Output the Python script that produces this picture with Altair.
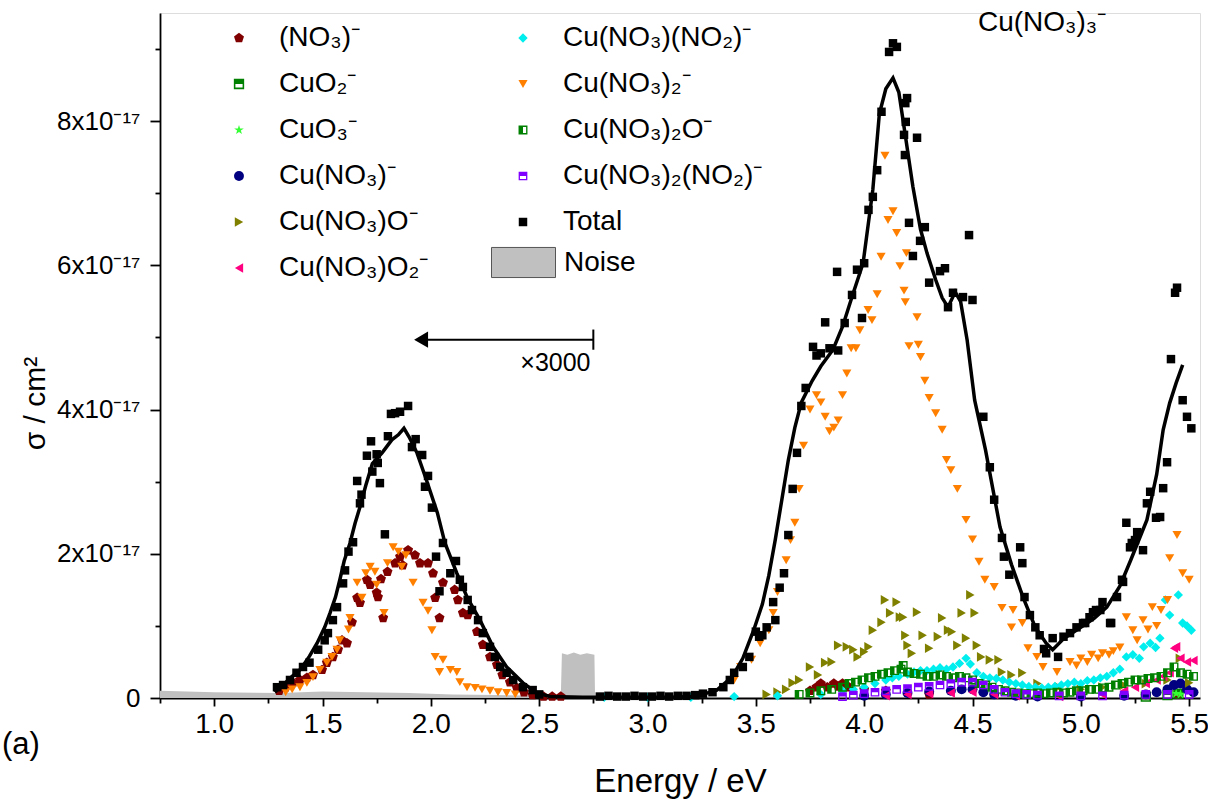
import altair as alt
import pandas as pd

# ---------------- data (cross-section in units of 1e-17 cm^2) ----------------
S_NO3 = "(NO₃)⁻"
S_CUO2 = "CuO₂⁻"
S_CUO3 = "CuO₃⁻"
S_CUNO3 = "Cu(NO₃)⁻"
S_CUNO3O = "Cu(NO₃)O⁻"
S_CUNO3O2 = "Cu(NO₃)O₂⁻"
S_CUNO3NO2 = "Cu(NO₃)(NO₂)⁻"
S_CUNO32 = "Cu(NO₃)₂⁻"
S_CUNO32O = "Cu(NO₃)₂O⁻"
S_CUNO32NO2 = "Cu(NO₃)₂(NO₂)⁻"
S_TOTAL = "Total"

total_x = [1.29, 1.318, 1.35, 1.38, 1.41, 1.44, 1.48, 1.51, 1.525, 1.548, 1.567, 1.595, 1.604, 1.62, 1.641,
           1.66, 1.673, 1.68, 1.705, 1.724, 1.73, 1.75, 1.755, 1.765, 1.788, 1.802, 1.816, 1.835, 1.858, 1.895,
           1.913, 1.93, 1.96, 1.973, 1.987, 2.005, 2.024, 2.04, 2.056, 2.09, 2.116, 2.134, 2.148, 2.17, 2.19,
           2.218, 2.24, 2.273, 2.296, 2.32, 2.35, 2.38, 2.425, 2.47, 2.50,
           2.78, 2.82, 2.86, 2.90, 2.94, 2.98, 3.02, 3.06, 3.10, 3.14, 3.18, 3.22,
           3.256, 3.30, 3.35, 3.38, 3.40, 3.44, 3.47, 3.50, 3.515, 3.53, 3.55, 3.58, 3.59, 3.61, 3.63,
           3.65, 3.67, 3.69, 3.71, 3.73, 3.764, 3.78, 3.80, 3.82, 3.84, 3.875, 3.88, 3.91, 3.944, 3.967,
           3.99, 4.00, 4.02, 4.04, 4.06, 4.08, 4.115, 4.133, 4.151, 4.184, 4.19, 4.198, 4.192, 4.188, 4.207,
           4.225, 4.244, 4.258, 4.28, 4.30, 4.35, 4.373, 4.387, 4.41, 4.456, 4.484, 4.50, 4.55, 4.58, 4.60,
           4.636, 4.645, 4.67, 4.72, 4.73, 4.74, 4.765, 4.79, 4.81, 4.83, 4.84, 4.87, 4.895, 4.92, 4.95,
           4.98, 5.01, 5.02, 5.04, 5.056, 5.07, 5.09, 5.10, 5.135, 5.14, 5.167, 5.19, 5.195, 5.21, 5.227,
           5.235, 5.25, 5.26, 5.287, 5.305, 5.32, 5.347, 5.366, 5.38, 5.398, 5.416, 5.435, 5.444, 5.47,
           5.49, 5.51]
total_y = [0.15, 0.18, 0.25, 0.35, 0.43, 0.49, 0.67, 0.80, 0.90, 1.08, 1.26, 1.59, 1.77, 2.03, 2.16,
           3.01, 2.70, 2.82, 3.36, 3.56, 3.14, 3.38, 3.26, 2.98, 2.27, 3.63, 3.94, 3.95, 3.97, 4.05,
           3.48, 3.59, 3.37, 2.93, 3.08, 2.64, 1.96, 1.48, 2.15, 1.73, 1.90, 1.64, 1.54, 1.36, 1.22,
           1.08, 0.90, 0.71, 0.57, 0.43, 0.35, 0.25, 0.15, 0.11, 0.05,
           0.02, 0.03, 0.02, 0.02, 0.03, 0.02, 0.02, 0.03, 0.02, 0.03, 0.03, 0.04,
           0.06, 0.08, 0.15, 0.25, 0.35, 0.43, 0.57, 0.92, 0.85, 0.87, 0.98, 1.33, 1.08, 1.53, 1.73,
           2.26, 2.90, 3.40, 4.05, 4.30, 4.87, 4.75, 4.78, 5.21, 4.85, 5.91, 4.82, 5.20, 5.59, 5.94,
           5.27, 6.03, 6.77, 6.95, 7.32, 8.13, 8.96, 9.08, 9.03, 7.81, 8.25, 8.32, 7.99, 7.53, 6.59,
           6.13, 7.77, 6.34, 6.53, 5.76, 5.92, 5.96, 5.42, 5.62, 5.56, 6.42, 5.52, 3.90, 3.20, 2.75,
           2.22, 1.96, 1.71, 2.09, 1.87, 1.40, 1.15, 0.98, 0.87, 0.68, 0.62, 0.83, 0.57, 0.85, 0.90,
           0.98, 1.04, 1.04, 1.12, 1.19, 1.22, 1.22, 1.33, 1.04, 1.04, 1.40, 1.64, 1.61, 2.43, 2.09,
           2.15, 2.19, 2.30, 2.05, 2.70, 2.86, 2.50, 2.51, 2.91, 3.27, 4.70, 5.62, 5.69, 4.13,
           3.90, 3.74]

line_x = [1.28, 1.318, 1.36, 1.396, 1.44, 1.475, 1.51, 1.535, 1.56, 1.58, 1.60, 1.627, 1.65, 1.673, 1.70,
          1.73, 1.775, 1.82, 1.85, 1.876, 1.90, 1.936, 1.98, 2.03, 2.065, 2.12, 2.167, 2.227, 2.287, 2.35,
          2.425, 2.49, 2.55, 2.70, 2.90, 3.10, 3.22, 3.32, 3.39, 3.44, 3.49, 3.53, 3.56, 3.59, 3.62,
          3.65, 3.68, 3.71, 3.76, 3.80, 3.856, 3.90, 3.95, 3.995, 4.04, 4.07, 4.10, 4.133, 4.16, 4.19,
          4.225, 4.26, 4.29, 4.33, 4.36, 4.387, 4.42, 4.445, 4.475, 4.51, 4.56, 4.627, 4.68, 4.733, 4.79,
          4.84, 4.87, 4.92, 5.00, 5.06, 5.12, 5.18, 5.23, 5.305, 5.35, 5.38, 5.41, 5.44, 5.47]
line_y = [0.08, 0.18, 0.30, 0.39, 0.58, 0.76, 0.98, 1.18, 1.40, 1.64, 1.90, 2.15, 2.42, 2.65, 2.95,
          3.25, 3.40, 3.58, 3.65, 3.74, 3.62, 3.40, 3.02, 2.57, 2.15, 1.73, 1.40, 1.08, 0.71, 0.43,
          0.21, 0.07, 0.02, 0.01, 0.01, 0.01, 0.02, 0.11, 0.29, 0.55, 0.94, 1.30, 1.70, 2.20, 2.75,
          3.30, 3.75, 4.10, 4.40, 4.60, 4.83, 5.15, 5.62, 6.03, 7.05, 8.10, 8.45, 8.60, 8.40, 7.80,
          7.09, 6.50, 6.17, 5.80, 5.55, 5.42, 5.63, 5.50, 4.97, 4.13, 3.44, 2.37, 1.85, 1.40, 0.98,
          0.76, 0.67, 0.82, 0.98, 1.10, 1.26, 1.55, 1.91, 2.47, 3.10, 3.72, 4.09, 4.37, 4.62]

no3_x = [1.30, 1.33, 1.364, 1.396, 1.428, 1.456, 1.498, 1.52, 1.548, 1.572, 1.59, 1.613, 1.636, 1.66, 1.673,
         1.705, 1.72, 1.75, 1.756, 1.77, 1.78, 1.80, 1.835, 1.858, 1.87, 1.895, 1.927, 1.95, 1.987, 2.01,
         2.02, 2.04, 2.056, 2.11, 2.125, 2.148, 2.17, 2.213, 2.24, 2.273, 2.305, 2.33, 2.365, 2.397, 2.43,
         2.47, 2.52, 2.56, 2.60, 3.75, 3.78, 3.80, 3.83, 3.86, 3.88, 3.90, 3.93, 4.00, 4.10, 4.30, 5.45]
no3_y = [0.10, 0.15, 0.21, 0.25, 0.28, 0.32, 0.39, 0.49, 0.57, 0.67, 0.80, 0.76, 1.05, 1.39, 1.32,
         1.64, 1.57, 1.46, 1.40, 1.65, 1.11, 1.75, 1.87, 1.96, 1.84, 2.05, 1.98, 1.87, 1.87, 1.73,
         1.39, 1.11, 1.60, 1.50, 1.36, 1.18, 1.15, 0.92, 0.74, 0.57, 0.46, 0.32, 0.22, 0.14, 0.08,
         0.04, 0.02, 0.02, 0.02, 0.10, 0.15, 0.20, 0.15, 0.20, 0.16, 0.20, 0.15, 0.12, 0.10, 0.05, 0.05]

cuo2_x = [5.30, 5.40, 5.45]
cuo2_y = [0.02, 0.04, 0.06]

cuo3_x = [5.44, 5.46]
cuo3_y = [0.06, 0.05]

cuno3_x = [4.00, 4.10, 4.20, 4.30, 4.40, 4.45, 4.50, 4.55, 4.60, 4.70, 4.80, 5.00, 5.20, 5.30, 5.35,
           5.40, 5.43, 5.46, 5.49, 5.52]
cuno3_y = [0.03, 0.05, 0.07, 0.09, 0.10, 0.12, 0.12, 0.08, 0.05, 0.03, 0.02, 0.02, 0.03, 0.05, 0.08,
           0.12, 0.18, 0.20, 0.12, 0.08]

cuno3o_x = [3.55, 3.60, 3.64, 3.67, 3.70, 3.75, 3.787, 3.82, 3.85, 3.88, 3.92, 3.95, 3.97, 4.00, 4.02,
            4.04, 4.08, 4.096, 4.12, 4.15, 4.165, 4.18, 4.19, 4.20, 4.22, 4.244, 4.27, 4.30, 4.34, 4.36,
            4.387, 4.405, 4.43, 4.45, 4.47, 4.49, 4.51, 4.52, 4.54, 4.58, 4.62, 4.636, 4.68, 4.73, 4.80,
            4.90, 5.00, 5.10, 5.20, 5.30, 5.40, 5.457, 5.50]
cuno3o_y = [0.05, 0.08, 0.12, 0.21, 0.25, 0.43, 0.32, 0.49, 0.50, 0.73, 0.71, 0.67, 0.57, 0.64, 0.71,
            0.94, 1.05, 1.36, 1.18, 1.33, 1.12, 1.12, 0.87, 0.73, 0.62, 1.19, 0.87, 0.69, 0.85, 1.11,
            0.94, 0.92, 0.73, 1.18, 0.83, 1.43, 1.18, 0.73, 0.57, 0.53, 0.53, 0.36, 0.32, 0.35, 0.20,
            0.15, 0.12, 0.15, 0.18, 0.20, 0.25, 0.55, 0.21]

cuno3o2_x = [4.10, 4.20, 4.30, 4.40, 4.50, 4.60, 4.70, 4.90, 5.10, 5.20, 5.25, 5.30, 5.35, 5.38, 5.41,
             5.43, 5.44, 5.46, 5.49, 5.52]
cuno3o2_y = [0.03, 0.05, 0.06, 0.07, 0.08, 0.05, 0.03, 0.02, 0.05, 0.10, 0.15, 0.20, 0.25, 0.30, 0.35,
             0.69, 0.71, 0.55, 0.50, 0.52]

cuno3no2_x = [2.80, 3.00, 3.20, 3.40, 3.60, 3.80, 3.90, 3.95, 4.00, 4.05, 4.10, 4.13, 4.16, 4.20, 4.23,
              4.26, 4.29, 4.32, 4.35, 4.38, 4.41, 4.44, 4.47, 4.49, 4.52, 4.55, 4.58, 4.61, 4.64, 4.67,
              4.70, 4.73, 4.76, 4.79, 4.82, 4.85, 4.88, 4.91, 4.94, 4.97, 5.00, 5.03, 5.06, 5.09, 5.12,
              5.15, 5.18, 5.21, 5.24, 5.27, 5.29, 5.32, 5.345, 5.365, 5.39, 5.41, 5.45, 5.47, 5.49, 5.51]
cuno3no2_y = [0.01, 0.01, 0.01, 0.02, 0.03, 0.05, 0.10, 0.12, 0.15, 0.20, 0.25, 0.28, 0.30, 0.33, 0.36,
              0.38, 0.38, 0.40, 0.42, 0.40, 0.43, 0.48, 0.55, 0.47, 0.35, 0.30, 0.28, 0.27, 0.25, 0.22,
              0.20, 0.18, 0.16, 0.15, 0.14, 0.15, 0.16, 0.18, 0.20, 0.22, 0.20, 0.24, 0.25, 0.28, 0.30,
              0.35, 0.40, 0.57, 0.60, 0.55, 0.71, 0.76, 0.70, 0.83, 1.36, 1.15, 1.43, 1.04, 1.00, 0.94]

cuno32_x = [1.33, 1.36, 1.396, 1.428, 1.456, 1.488, 1.52, 1.544, 1.567, 1.58, 1.62, 1.627, 1.66, 1.682,
            1.70, 1.72, 1.742, 1.75, 1.784, 1.80, 1.826, 1.85, 1.866, 1.885, 1.918, 1.964, 1.987, 2.005,
            2.02, 2.04, 2.056, 2.09, 2.12, 2.134, 2.167, 2.204, 2.236, 2.273, 2.31, 2.35, 2.39,
            3.40, 3.43, 3.48, 3.52, 3.56, 3.58, 3.60, 3.63, 3.64, 3.66, 3.68, 3.70, 3.72, 3.75, 3.78,
            3.80, 3.82, 3.84, 3.86, 3.88, 3.90, 3.92, 3.94, 3.962, 3.98, 4.018, 4.036, 4.06, 4.078, 4.096,
            4.11, 4.133, 4.15, 4.165, 4.184, 4.19, 4.195, 4.207, 4.244, 4.25, 4.26, 4.28, 4.30, 4.33, 4.36,
            4.38, 4.40, 4.43, 4.47, 4.50, 4.53, 4.557, 4.60, 4.636, 4.68, 4.687, 4.73, 4.756, 4.797, 4.825,
            4.89, 4.95, 4.98, 5.00, 5.03, 5.05, 5.08, 5.10, 5.13, 5.15, 5.18, 5.21, 5.24, 5.26, 5.287,
            5.31, 5.33, 5.35, 5.37, 5.40, 5.41, 5.444, 5.47, 5.50]
cuno32_y = [0.08, 0.12, 0.15, 0.21, 0.29, 0.39, 0.49, 0.57, 0.67, 0.80, 0.95, 1.11, 1.60, 1.39,
            1.73, 1.82, 1.75, 1.57, 1.18, 1.87, 2.09, 2.03, 1.82, 1.98, 1.60, 1.32, 1.21, 0.94,
            0.57, 0.36, 0.53, 0.39, 0.36, 0.22, 0.15, 0.14, 0.12, 0.10, 0.08, 0.07, 0.05,
            0.25, 0.43, 0.53, 0.76, 0.94, 1.18, 1.47, 1.73, 1.91, 2.19, 2.43, 2.90, 3.50, 4.00, 4.20,
            4.10, 3.90, 3.70, 3.75, 3.85, 4.20, 4.50, 4.85, 4.85, 5.10, 5.38, 5.24, 5.60, 6.12, 7.52,
            6.63, 6.75, 6.45, 5.99, 5.65, 5.49, 6.17, 4.88, 5.28, 4.90, 4.73, 4.40, 4.16, 3.95, 3.72,
            3.30, 3.16, 2.90, 2.47, 2.20, 1.89, 1.64, 1.54, 1.25, 0.98, 1.22, 1.04, 0.69, 0.57, 0.43,
            0.36, 0.50, 0.45, 0.55, 0.50, 0.60, 0.55, 0.62, 0.60, 0.65, 0.70, 1.12, 0.94, 0.80, 1.08,
            0.95, 1.26, 1.00, 1.22, 1.36, 1.94, 2.26, 1.73, 1.64]

cuno32o_x = [3.70, 3.75, 3.80, 3.85, 3.90, 3.93, 3.96, 3.99, 4.02, 4.05, 4.08, 4.11, 4.14, 4.17, 4.18,
             4.20, 4.23, 4.26, 4.29, 4.32, 4.35, 4.38, 4.41, 4.44, 4.47, 4.50, 4.53, 4.56, 4.59, 4.62,
             4.65, 4.68, 4.71, 4.74, 4.77, 4.80, 4.83, 4.86, 4.89, 4.92, 4.95, 4.98, 5.01, 5.04, 5.07,
             5.10, 5.13, 5.16, 5.19, 5.22, 5.25, 5.28, 5.31, 5.34, 5.37, 5.40, 5.43, 5.46, 5.49, 5.52]
cuno32o_y = [0.05, 0.07, 0.10, 0.12, 0.15, 0.20, 0.22, 0.25, 0.28, 0.30, 0.33, 0.35, 0.38, 0.40, 0.45,
             0.36, 0.34, 0.33, 0.30, 0.30, 0.32, 0.30, 0.28, 0.30, 0.28, 0.25, 0.20, 0.18, 0.15, 0.12,
             0.10, 0.08, 0.07, 0.06, 0.06, 0.07, 0.06, 0.07, 0.08, 0.07, 0.08, 0.10, 0.10, 0.12, 0.12,
             0.14, 0.15, 0.18, 0.20, 0.22, 0.25, 0.25, 0.27, 0.28, 0.30, 0.35, 0.43, 0.35, 0.33, 0.30]

cuno32no2_x = [3.90, 3.95, 4.00, 4.05, 4.10, 4.15, 4.20, 4.25, 4.30, 4.35, 4.40, 4.45, 4.50, 4.55, 4.60,
               4.65, 4.70, 4.75, 4.80, 4.90, 5.00, 5.10, 5.20, 5.30, 5.40, 5.50]
cuno32no2_y = [0.02, 0.04, 0.06, 0.08, 0.10, 0.12, 0.13, 0.15, 0.16, 0.18, 0.20, 0.22, 0.22, 0.18, 0.12,
               0.08, 0.06, 0.05, 0.04, 0.03, 0.03, 0.03, 0.04, 0.05, 0.05, 0.05]

noise_x = [0.75, 1.00, 1.30, 1.50, 1.70, 1.90, 2.10, 2.30, 2.50, 2.600, 2.605, 2.63, 2.66, 2.69, 2.72,
           2.755, 2.758]
noise_y = [0.10, 0.08, 0.07, 0.09, 0.08, 0.07, 0.05, 0.04, 0.03, 0.03, 0.62, 0.60, 0.63, 0.60, 0.62,
           0.60, 0.00]

x_major = [1.0, 1.5, 2.0, 2.5, 3.0, 3.5, 4.0, 4.5, 5.0, 5.5]
x_minor = [0.75, 1.25, 1.75, 2.25, 2.75, 3.25, 3.75, 4.25, 4.75, 5.25]
y_major = [0, 2, 4, 6, 8]
y_minor = [1, 3, 5, 7, 9]

# ---------------- styling ----------------
PENTAGON = "M0,-1L0.951,-0.309L0.588,0.809L-0.588,0.809L-0.951,-0.309Z"
STAR = ("M0,-1L0.225,-0.309L0.951,-0.309L0.363,0.118L0.588,0.809L0,0.382L-0.588,0.809"
        "L-0.363,0.118L-0.951,-0.309L-0.225,-0.309Z")
TOP_HALF = "M-1,-1H1V1H-1ZM-0.7,0V0.7H0.7V0Z"
LEFT_HALF = "M-1,-1H1V1H-1ZM0,-0.7V0.7H0.7V-0.7Z"

series_data = [
    (S_NO3, no3_x, no3_y, "#800000", PENTAGON, 110),
    (S_CUO2, cuo2_x, cuo2_y, "#008000", TOP_HALF, 72),
    (S_CUO3, cuo3_x, cuo3_y, "#33ff33", STAR, 100),
    (S_CUNO3, cuno3_x, cuno3_y, "#000080", "circle", 80),
    (S_CUNO3O, cuno3o_x, cuno3o_y, "#808000", "triangle-right", 125),
    (S_CUNO3O2, cuno3o2_x, cuno3o2_y, "#ff0080", "triangle-left", 125),
    (S_CUNO3NO2, cuno3no2_x, cuno3no2_y, "#00eeee", "diamond", 125),
    (S_CUNO32, cuno32_x, cuno32_y, "#ff8000", "triangle-down", 135),
    (S_CUNO32O, cuno32o_x, cuno32o_y, "#008000", LEFT_HALF, 72),
    (S_CUNO32NO2, cuno32no2_x, cuno32no2_y, "#8000ff", TOP_HALF, 72),
    (S_TOTAL, total_x, total_y, "#000000", "square", 80),
]

rows = []
for name, xs, ys, _, _, _ in series_data:
    for a, b in zip(xs, ys):
        rows.append({"series": name, "x": a, "y": b})
df_pts = pd.DataFrame(rows)

legend_order = [s[0] for s in series_data]
colors = [s[3] for s in series_data]
shapes = [s[4] for s in series_data]
sizes = [s[5] for s in series_data]

FONT = "Liberation Sans"
NARROW = "Liberation Sans Narrow, Liberation Sans"

xs_scale = alt.Scale(domain=[0.75, 5.55], nice=False, zero=False)
ys_scale = alt.Scale(domain=[0, 9.5], nice=False, zero=False)

legend_kw = dict(orient="none", legendX=65, legendY=11, columns=2, title=None,
                 labelFont=FONT, labelFontSize=28, labelColor="black", symbolSize=50,
                 rowPadding=18, columnPadding=80, labelOffset=26, labelLimit=500,
                 padding=0, symbolStrokeWidth=0, symbolOpacity=1)

points = alt.Chart(df_pts).mark_point(filled=True, opacity=1, strokeWidth=0).encode(
    x=alt.X("x:Q", scale=xs_scale,
            axis=alt.Axis(orient="bottom", values=x_major, format=".1f", title="Energy / eV",
                          tickSize=8, labelFont=NARROW, labelFontSize=28, labelPadding=4,
                          titleFont=NARROW, titleFontSize=33, titlePadding=27,
                          domainColor="black", tickColor="black", domainWidth=1.8, tickWidth=1.8,
                          labelColor="black", titleColor="black", grid=False, titleFontWeight="normal")),
    y=alt.Y("y:Q", scale=ys_scale,
            axis=alt.Axis(orient="left", values=y_major,
                          labelExpr="datum.value == 0 ? '0' : datum.value + 'x10⁻¹⁷'",
                          title="σ / cm²", tickSize=10, labelFont=FONT, labelFontSize=26,
                          labelPadding=10, titleFont=FONT, titleFontSize=30,
                          titleX=-125, titleY=390, titleBaseline="middle", titleAngle=270,
                          domainColor="black", tickColor="black", domainWidth=1.8, tickWidth=1.8,
                          labelColor="black", titleColor="black", grid=False, titleFontWeight="normal")),
    color=alt.Color("series:N", scale=alt.Scale(domain=legend_order, range=colors),
                    sort=legend_order, legend=alt.Legend(**legend_kw)),
    shape=alt.Shape("series:N", scale=alt.Scale(domain=legend_order, range=shapes),
                    sort=legend_order, legend=alt.Legend(**legend_kw)),
    size=alt.Size("series:N", scale=alt.Scale(domain=legend_order, range=sizes), legend=None),
)

df_line = pd.DataFrame({"x": line_x, "y": line_y})
line = alt.Chart(df_line).mark_line(color="black", strokeWidth=3.5).encode(
    x=alt.X("x:Q", scale=xs_scale), y=alt.Y("y:Q", scale=ys_scale))

# annotations: "x3000" arrow, molecule label, panel letter
arrow_df = pd.DataFrame({"x": [1.94], "x2": [2.75], "y": [4.97]})
arrow_line = alt.Chart(arrow_df).mark_rule(color="black", strokeWidth=2).encode(
    x=alt.X("x:Q", scale=xs_scale), x2="x2:Q", y=alt.Y("y:Q", scale=ys_scale))
head_df = pd.DataFrame({"x": [1.955], "y": [4.97]})
arrow_head = alt.Chart(head_df).mark_point(shape="triangle-left", filled=True, color="black",
                                           opacity=1, size=260, strokeWidth=0).encode(
    x=alt.X("x:Q", scale=xs_scale), y=alt.Y("y:Q", scale=ys_scale))
bar_df = pd.DataFrame({"x": [2.75], "y": [4.83], "y2": [5.11]})
arrow_bar = alt.Chart(bar_df).mark_rule(color="black", strokeWidth=2).encode(
    x=alt.X("x:Q", scale=xs_scale), y=alt.Y("y:Q", scale=ys_scale), y2="y2:Q")
mult_df = pd.DataFrame({"x": [2.737], "y": [4.64], "t": ["×3000"]})
mult_text = alt.Chart(mult_df).mark_text(align="right", baseline="middle", font=FONT,
                                         fontSize=25, color="black").encode(
    x=alt.X("x:Q", scale=xs_scale), y=alt.Y("y:Q", scale=ys_scale), text="t:N")
mol_df = pd.DataFrame({"x": [4.525], "y": [9.36], "t": ["Cu(NO₃)₃⁻"]})
mol_text = alt.Chart(mol_df).mark_text(align="left", baseline="middle", font=FONT,
                                       fontSize=28, color="black").encode(
    x=alt.X("x:Q", scale=xs_scale), y=alt.Y("y:Q", scale=ys_scale), text="t:N")
panel_df = pd.DataFrame({"t": ["(a)"]})
panel_text = alt.Chart(panel_df).mark_text(align="left", baseline="middle", font=FONT,
                                           fontSize=31, color="black").encode(
    x=alt.value(-158), y=alt.value(732), text="t:N")

main = alt.layer(points, line, arrow_line, arrow_bar, arrow_head, mult_text, mol_text, panel_text)

df_noise = pd.DataFrame({"x": noise_x, "y": noise_y, "k": ["Noise"] * len(noise_x)})
noise = alt.Chart(df_noise).mark_area(opacity=1).encode(
    x=alt.X("x:Q", scale=xs_scale,
            axis=alt.Axis(orient="bottom", values=x_minor, labels=False, title=None, domain=False,
                          tickSize=5, tickColor="black", tickWidth=1.8, grid=False)),
    y=alt.Y("y:Q", scale=ys_scale,
            axis=alt.Axis(orient="left", values=y_minor, labels=False, title=None, domain=False,
                          tickSize=5, tickColor="black", tickWidth=1.8, grid=False)),
    fill=alt.Fill("k:N", scale=alt.Scale(domain=["Noise"], range=["#c0c0c0"]),
                  legend=alt.Legend(orient="none", legendX=331, legendY=217, title=None,
                                    symbolType="M-1,-0.47H1V0.47H-1Z", symbolSize=4096,
                                    symbolStrokeColor="#555555", symbolStrokeWidth=1,
                                    labelFont=FONT, labelFontSize=28, labelColor="black",
                                    labelOffset=8, padding=0)),
)

chart = alt.layer(noise, main).resolve_axis(x="independent", y="independent").properties(
    width=1040, height=685,
    autosize=alt.AutoSizeParams(type="none"),
    padding={"left": 160, "top": 13, "right": 8, "bottom": 105},
).configure_view(stroke=None).configure(background="white")

chart.save("out.html", embed_options={"renderer": "svg", "actions": False})
